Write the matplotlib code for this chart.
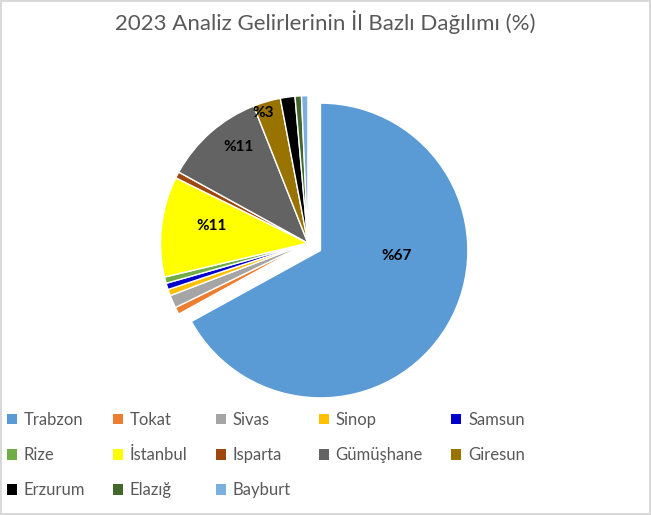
import numpy as np
import matplotlib.pyplot as plt
from matplotlib.patches import Patch

# İl bazlı analiz gelirleri (%)
iller = ['Trabzon', 'Tokat', 'Sivas', 'Sinop', 'Samsun', 'Rize', 'İstanbul',
         'Isparta', 'Gümüşhane', 'Giresun', 'Erzurum', 'Elazığ', 'Bayburt']
oranlar = [67, 0.8, 1.4, 0.7, 0.7, 0.7, 11, 0.7, 11, 3, 1.6, 0.7, 0.7]
etiketler = ['%67', '', '', '', '', '', '%11', '', '%11', '%3', '', '', '']
renkler = ['#5B9BD5', '#ED7D31', '#A5A5A5', '#FFC000', '#0000CC', '#70AD47', '#FFFF00',
           '#9E480E', '#636363', '#997300', '#000000', '#43682B', '#7CAFDD']

plt.rcParams['font.family'] = ['Lato', 'DejaVu Sans']

fig = plt.figure(figsize=(6.51, 5.15), dpi=100)
fig.patch.set_edgecolor('#D9D9D9')
fig.patch.set_linewidth(1.5)

ax = fig.add_axes([0.204, 0.188, 0.538, 0.680])
explode = [0.1] + [0] * (len(oranlar) - 1)
wedges, _ = ax.pie(oranlar, colors=renkler, startangle=90, counterclock=False,
                   explode=explode, radius=1.01,
                   wedgeprops=dict(edgecolor='white', linewidth=1.0))
ax.set_xlim(-1.2, 1.2)
ax.set_ylim(-1.2, 1.2)
ax.set_aspect('equal')

# veri etiketleri (Excel yerleşimine yakın)
etiket_yeri = {0: (-4, 0.52), 6: (170, 0.67), 8: (126, 0.81), 9: (109, 0.94)}
for i, w in enumerate(wedges):
    if etiketler[i] == '':
        continue
    aci, uzak = etiket_yeri[i]
    cx, cy = w.center
    ax.text(cx + uzak * np.cos(np.radians(aci)), cy + uzak * np.sin(np.radians(aci)),
            etiketler[i], ha='center', va='center', fontsize=11, fontweight='bold',
            color='black')

fig.text(0.5, 0.957, '2023 Analiz Gelirlerinin İl Bazlı Dağılımı (%)', ha='center',
         va='center', fontsize=16, color='#595959')

# legend: satır satır sıralama için sütun düzenine çevir
ncol = 5
satir = int(np.ceil(len(iller) / ncol))
sira = []
for c in range(ncol):
    for r in range(satir):
        k = r * ncol + c
        if k < len(iller):
            sira.append(k)
handles = [Patch(facecolor=renkler[k], edgecolor='none') for k in sira]
labels = [iller[k] for k in sira]
leg = fig.legend(handles, labels, ncol=ncol, loc='upper left',
                 bbox_to_anchor=(0.0, 0.213), frameon=False, fontsize=12,
                 handlelength=0.6, handleheight=0.6, handletextpad=0.4,
                 columnspacing=1.7, labelspacing=1.15, borderaxespad=0)
for t in leg.get_texts():
    t.set_color('#595959')

plt.savefig('out.png', dpi=100)
